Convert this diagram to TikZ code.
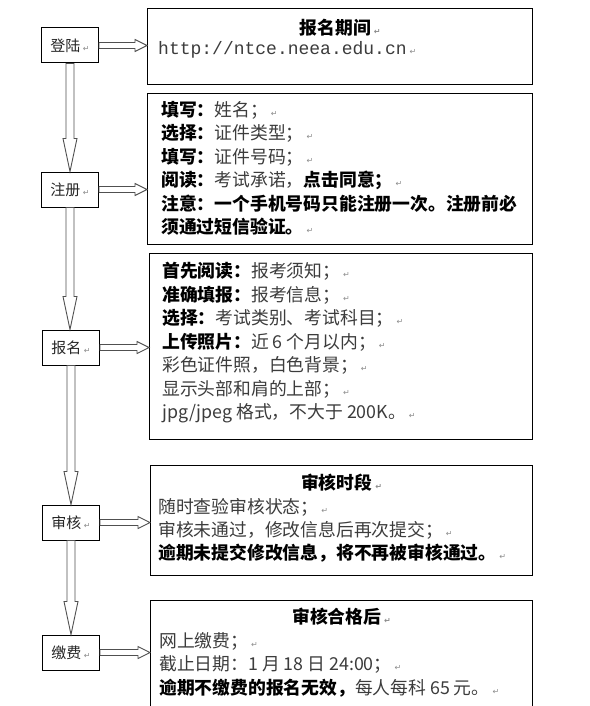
\documentclass[tikz,border=0pt]{standalone}
\usepackage{fontspec}
\newfontfamily\cjk{Noto Sans CJK SC}
\newfontfamily\urlfont{Liberation Mono}
\newfontfamily\markfont{DejaVu Sans}
\usetikzlibrary{calc}
\definecolor{arrowgray}{RGB}{80,80,80}
\definecolor{textgray}{RGB}{60,60,60}
\newcommand{\pmk}{\,{\markfont\fontsize{8}{8}\selectfont\color{black!45}↵}}
\newcommand{\bt}[1]{{\bfseries\color{black}#1}}

\begin{document}
\begin{tikzpicture}[x=1pt,y=-1pt,
    stepbox/.style={draw,line width=1pt,minimum width=57pt,minimum height=35pt,inner sep=0pt,
      text=black!85,font=\cjk\fontsize{15}{18}\selectfont},
    infobox/.style={draw,line width=1.2pt,anchor=north west,inner sep=0pt},
    para/.style={anchor=north west,align=left,inner sep=0pt,text=textgray,
      font=\cjk\fontsize{17.8}{23.5}\selectfont},
    headline/.style={inner sep=0pt,font=\cjk\bfseries\fontsize{17.8}{23.5}\selectfont},
    downarrow/.style={draw=arrowgray,fill=white,line width=0.9pt,
      to path={let \p1=(\tikztostart),\p2=(\tikztotarget) in
        (\x1-4pt,\y1) -- (\x1-4pt,\y2+33pt) -- (\x1-7pt,\y2+33pt) -- (\x1,\y2)
        -- (\x1+7pt,\y2+33pt) -- (\x1+4pt,\y2+33pt) -- (\x1+4pt,\y1) -- cycle}},
    rightarrow/.style={draw=arrowgray,fill=white,line width=0.9pt,
      to path={let \p1=(\tikztostart),\p2=(\tikztotarget) in
        (\x1,\y1+3pt) -- (\x2-12pt,\y1+3pt) -- (\x2-12pt,\y1+6pt) -- (\x2,\y1)
        -- (\x2-12pt,\y1-6pt) -- (\x2-12pt,\y1-3pt) -- (\x1,\y1-3pt) -- cycle}}]
  \useasboundingbox (0,0) rectangle (589,706);
  \fill[white] (0,0) rectangle (589,706);
  \clip (0,0) rectangle (589,706);

  % steps on the left
  \node[stepbox] (login) at (70,45.5) {登陆\pmk};
  \node[stepbox] (register) at (70,189.5) {注册\pmk};
  \node[stepbox] (apply) at (71,347.5) {报名\pmk};
  \node[stepbox] (review) at (71,522.5) {审核\pmk};
  \node[stepbox] (pay) at (71,652.5) {缴费\pmk};

  % boxes on the right
  \node[infobox,minimum width=385pt,minimum height=76pt] (period) at (147,8) {};
  \node[infobox,minimum width=385pt,minimum height=151pt] (form) at (147,93) {};
  \node[infobox,minimum width=383pt,minimum height=186pt] (notice) at (149,253) {};
  \node[infobox,minimum width=382pt,minimum height=110pt] (audit) at (150,465) {};
  \node[infobox,minimum width=382pt,minimum height=112pt] (fee) at (150,600) {};

  % texts
  \node[headline] (periodtitle) at (period.north |- 0,28) {报名期间\pmk};
  \node[anchor=base west,inner sep=0pt,text=textgray,font=\urlfont\fontsize{18}{18}\selectfont]
    (url) at (158,55) {http://ntce.neea.edu.cn\pmk};
  \node[para] (formtext) at (161,101) {\bt{填写：}姓名；\pmk\\
    \bt{选择：}证件类型；\pmk\\
    \bt{填写：}证件号码；\pmk\\
    \bt{阅读：}考试承诺，\bt{点击同意；}\pmk\\
    \bt{注意：一个手机号码只能注册一次。注册前必}\\
    \bt{须通过短信验证。}\pmk};
  \node[para] (noticetext) at (162,262) {\bt{首先阅读：}报考须知；\pmk\\
    \bt{准确填报：}报考信息；\pmk\\
    \bt{选择：}考试类别、考试科目；\pmk\\
    \bt{上传照片：}近 6 个月以内；\pmk\\
    彩色证件照，白色背景；\pmk\\
    显示头部和肩的上部；\pmk\\
    jpg/jpeg 格式，不大于 200K。\pmk};
  \node[headline] (audittitle) at (audit.north |- 0,483) {审核时段\pmk};
  \node[para,font=\cjk\fontsize{17.8}{23}\selectfont] (audittext) at (158,498) {随时查验审核状态；\pmk\\
    审核未通过，修改信息后再次提交；\pmk\\
    \bt{逾期未提交修改信息，将不再被审核通过。}\pmk};
  \node[headline] (feetitle) at (fee.north |- 0,617) {审核合格后\pmk};
  \node[para] (feetext) at (159,632) {网上缴费；\pmk\\
    截止日期：1 月 18 日 24:00；\pmk\\
    \bt{逾期不缴费的报名无效，}每人每科 65 元。\pmk};

  % arrows
  \draw[downarrow] (login.south) to (register.north);
  \draw[downarrow] (register.south) to (apply.north);
  \draw[downarrow] (apply.south) to (review.north);
  \draw[downarrow] (review.south) to (pay.north);
  \draw[rightarrow] (login.east) to (login.east -| period.west);
  \draw[rightarrow] (register.east) to (register.east -| form.west);
  \draw[rightarrow] (apply.east) to (apply.east -| notice.west);
  \draw[rightarrow] (review.east) to (review.east -| audit.west);
  \draw[rightarrow] (pay.east) to (pay.east -| fee.west);
\end{tikzpicture}
\end{document}
